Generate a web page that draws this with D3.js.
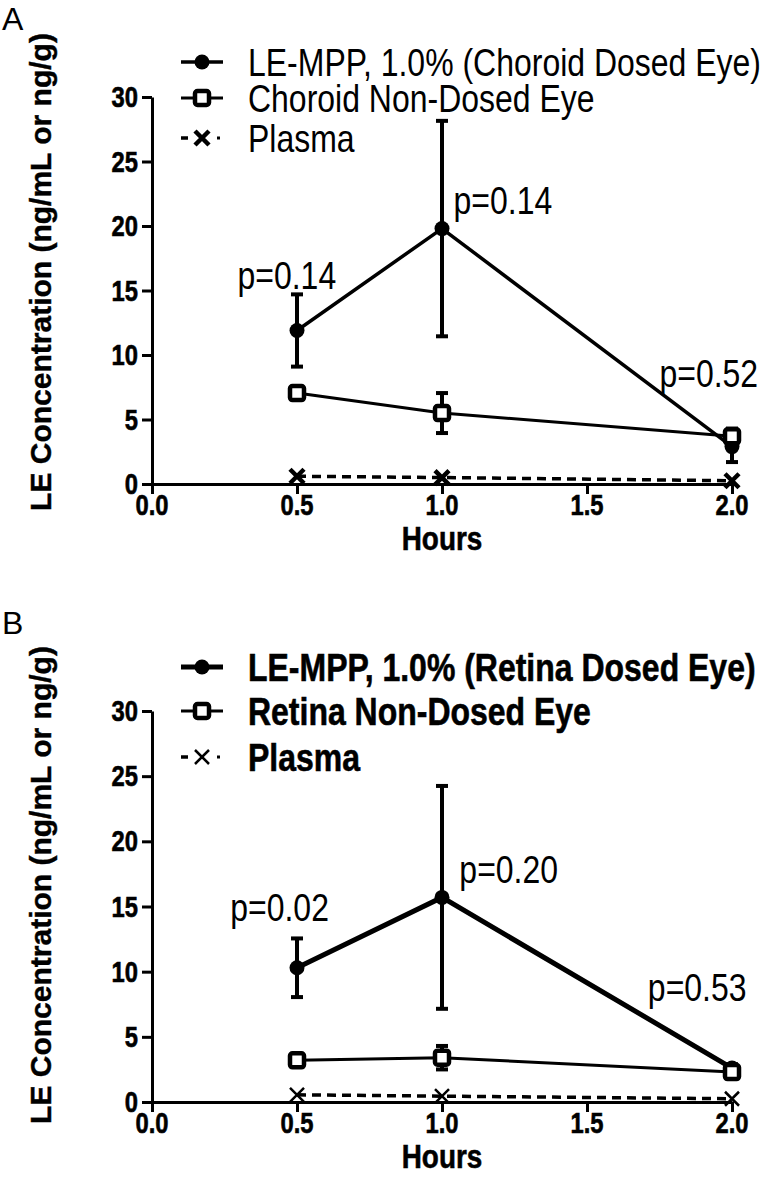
<!DOCTYPE html>
<html><head><meta charset="utf-8">
<script src="https://cdn.jsdelivr.net/npm/d3@7/dist/d3.min.js"></script>
<style>body{margin:0;background:#fff}</style>
</head><body><svg id="c" width="767" height="1190"></svg>
<script>
// ---------- data ----------
const hours = [0.5, 1.0, 2.0];
const xTicks = [0.0, 0.5, 1.0, 1.5, 2.0];
const yTicks = [0, 5, 10, 15, 20, 25, 30];
const choroidDosed = [11.9, 19.8, 2.9];
const choroidDosedErr = [2.8, 8.35, 1.2];
const choroidNonDosed = [7.05, 5.5, 3.7];
const choroidNonDosedErr = [0.3, 1.55, 0.6];
const plasmaA = [0.6, 0.5, 0.25];
const retinaDosed = [10.3, 15.7, 2.6];
const retinaDosedErr = [2.25, 8.55, 0.3];
const retinaNonDosed = [3.2, 3.4, 2.3];
const retinaNonDosedErr = [0.2, 0.9, 0.3];
const plasmaB = [0.55, 0.45, 0.25];
const legendA = ["LE-MPP, 1.0% (Choroid Dosed Eye)", "Choroid Non-Dosed Eye", "Plasma"];
const legendB = ["LE-MPP, 1.0% (Retina Dosed Eye)", "Retina Non-Dosed Eye", "Plasma"];
const pLabelsA = ["p=0.14", "p=0.14", "p=0.52"];
const pLabelsB = ["p=0.02", "p=0.20", "p=0.53"];
const yTitle = "LE Concentration (ng/mL or ng/g)";
const xTitle = "Hours";
const panelLetters = ["A", "B"];

// ---------- font helper ----------
function hasFont(name){
  const c = document.createElement('canvas').getContext('2d');
  const s = 'abcdefgHIJKL 0123456';
  c.font = '40px monospace'; const w0 = c.measureText(s).width;
  c.font = `40px "${name}", monospace`; return c.measureText(s).width !== w0;
}
const NARROW = hasFont('Liberation Sans Narrow');
const NFAM = NARROW ? '"Liberation Sans Narrow", "Liberation Sans", Arial, sans-serif' : '"Liberation Sans", Arial, sans-serif';
const WFAM = '"Liberation Sans", Arial, sans-serif';

const svg = d3.select('#c');

function ntext(parent, x, y, str, size, weight, anchor){
  const g = parent.append('g').attr('transform', `translate(${x},${y})` + (NARROW ? '' : ' scale(0.82,1)'));
  const t = g.append('text').attr('x',0).attr('y',0).text(str)
    .attr('font-family', NFAM).attr('font-size', size).attr('font-weight', weight)
    .attr('text-anchor', anchor).attr('fill', '#000');
  if (weight === 'bold') t.attr('stroke','#000').attr('stroke-width',0.6);
  return t;
}

const x = d3.scaleLinear().domain([0, 2]).range([152, 732]);

function markerCircle(g, cx, cy){ g.append('circle').attr('cx',cx).attr('cy',cy).attr('r',7.5).attr('fill','#000'); }
function markerSquare(g, cx, cy){ g.append('rect').attr('x',cx-7).attr('y',cy-7).attr('width',14).attr('height',14).attr('rx',2.5)
  .attr('fill','#fff').attr('stroke','#000').attr('stroke-width',4.5); }
function markerX(g, cx, cy, sw){ const s=7;
  g.append('path').attr('d',`M${cx-s},${cy-s}L${cx+s},${cy+s}M${cx-s},${cy+s}L${cx+s},${cy-s}`)
   .attr('stroke','#000').attr('stroke-width',sw).attr('fill','none'); }

function panel(cfg){
  const g = svg.append('g');
  const y = d3.scaleLinear().domain([0, 30]).range([cfg.y0, cfg.y30]);
  const ya = g.append('g').attr('transform', `translate(${x(0)},0)`)
    .call(d3.axisLeft(y).tickValues(yTicks).tickSize(10).tickSizeOuter(0).tickFormat(''));
  const xa = g.append('g').attr('transform', `translate(0,${y(0)})`)
    .call(d3.axisBottom(x).tickValues(xTicks).tickSize(10).tickSizeOuter(0).tickFormat(''));
  [ya, xa].forEach(a => { a.select('.domain').attr('stroke-width',3).attr('stroke','#000');
    a.selectAll('.tick line').attr('stroke-width',3).attr('stroke','#000'); });
  yTicks.forEach(t => ntext(g, x(0)-14, y(t)+10, String(t), 29, 'bold', 'end'));
  xTicks.forEach(t => ntext(g, x(t), y(0)+31, t.toFixed(1), 29, 'bold', 'middle'));
  ntext(g, (x(0)+x(2))/2, y(0)+66, xTitle, 34, 'bold', 'middle');
  g.append('text').attr('transform', `translate(51,${cfg.titleY}) rotate(-90)`).attr('text-anchor','middle')
    .attr('font-family', WFAM).attr('font-weight','bold').attr('font-size', 30)
    .attr('stroke','#000').attr('stroke-width',0.4).text(yTitle);
  g.append('text').attr('x',2).attr('y',cfg.letterY).attr('font-family',WFAM).attr('font-size',32).text(cfg.letter);

  const line = d3.line().x((d,i)=>x(hours[i])).y(d=>y(d));
  g.append('path').attr('d', line(cfg.plasma)).attr('fill','none').attr('stroke','#000')
    .attr('stroke-width',3.5).attr('stroke-dasharray','9,6');
  g.append('path').attr('d', line(cfg.nondosed)).attr('fill','none').attr('stroke','#000').attr('stroke-width',3);
  g.append('path').attr('d', line(cfg.dosed)).attr('fill','none').attr('stroke','#000').attr('stroke-width',cfg.dosedW);

  function errbars(vals, errs){
    vals.forEach((v,i)=>{
      const cx = x(hours[i]), y1 = y(v-errs[i]), y2 = y(v+errs[i]);
      g.append('line').attr('x1',cx).attr('x2',cx).attr('y1',y1).attr('y2',y2).attr('stroke','#000').attr('stroke-width',4);
      [y1,y2].forEach(yy => g.append('line').attr('x1',cx-6).attr('x2',cx+6).attr('y1',yy).attr('y2',yy).attr('stroke','#000').attr('stroke-width',4));
    });
  }
  errbars(cfg.dosed, cfg.dosedErr);
  cfg.dosed.forEach((v,i)=>markerCircle(g, x(hours[i]), y(v)));
  errbars(cfg.nondosed, cfg.nondosedErr);
  cfg.nondosed.forEach((v,i)=>markerSquare(g, x(hours[i]), y(v)));
  cfg.plasma.forEach((v,i)=>markerX(g, x(hours[i]), y(v), cfg.xW));

  cfg.pPos.forEach((p,i)=> ntext(g, x(p[0]), y(p[1])+14, cfg.pLabels[i], 39, 'normal', 'middle'));

  const rows = cfg.rows;
  const lx1 = 181, lx2 = 223, lm = 202, tx = 248;
  g.append('line').attr('x1',lx1).attr('x2',lx2).attr('y1',rows[0]).attr('y2',rows[0]).attr('stroke','#000').attr('stroke-width',cfg.dosedW);
  markerCircle(g, lm, rows[0]);
  g.append('line').attr('x1',lx1).attr('x2',lx2).attr('y1',rows[1]).attr('y2',rows[1]).attr('stroke','#000').attr('stroke-width',3);
  markerSquare(g, lm, rows[1]);
  g.append('line').attr('x1',lx1).attr('x2',lx1+7).attr('y1',rows[2]).attr('y2',rows[2]).attr('stroke','#000').attr('stroke-width',3.5);
  g.append('rect').attr('x',lx2-6).attr('y',rows[2]-1.5).attr('width',3).attr('height',3).attr('fill','#000');
  markerX(g, lm, rows[2], cfg.xW);
  cfg.legend.forEach((t,i)=> ntext(g, tx, rows[i]+14, t, 39, cfg.legendWeight, 'start'));
}

panel({y0:484, y30:97, titleY:272, letter:panelLetters[0], letterY:30, rows:[62,98,138],
  dosed:choroidDosed, dosedErr:choroidDosedErr,
  nondosed:choroidNonDosed, nondosedErr:choroidNonDosedErr, plasma:plasmaA, dosedW:3.5, xW:4.5,
  pPos:[[0.465,16.2],[1.21,22.0],[1.92,8.6]], pLabels:pLabelsA, legend:legendA, legendWeight:'normal'});
panel({y0:1102, y30:711, titleY:885, letter:panelLetters[1], letterY:634, rows:[667,711,757],
  dosed:retinaDosed, dosedErr:retinaDosedErr,
  nondosed:retinaNonDosed, nondosedErr:retinaNonDosedErr, plasma:plasmaB, dosedW:5, xW:2.5,
  pPos:[[0.44,15.0],[1.23,17.9],[1.88,8.8]], pLabels:pLabelsB, legend:legendB, legendWeight:'bold'});
</script></body></html>
